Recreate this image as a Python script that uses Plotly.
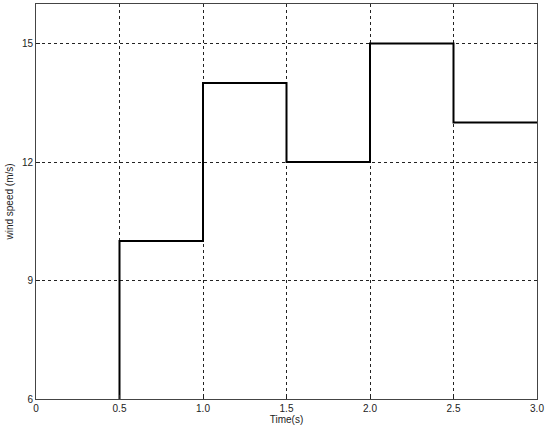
import plotly.graph_objects as go

# wind speed is 0 before the first step, clipped below the axis range
time_s = [0, 0.5, 1.0, 1.5, 2.0, 2.5, 3.0]
wind_speed = [0, 10, 14, 12, 15, 13, 13]

x_ticks = [0, 0.5, 1.0, 1.5, 2.0, 2.5, 3.0]
x_tick_labels = ["0", "0.5", "1.0", "1.5", "2.0", "2.5", "3.0"]
y_ticks = [6, 9, 12, 15]

fig = go.Figure()
fig.add_trace(go.Scatter(
    x=time_s, y=wind_speed, mode="lines", line_shape="hv",
    line=dict(color="black", width=2), showlegend=False,
))

axis_common = dict(
    showline=True, linecolor="#444444", linewidth=1, mirror=True,
    showgrid=True, gridcolor="#222222", griddash="dot", gridwidth=1,
    zeroline=False, ticks="inside", ticklen=4, tickcolor="#222222",
    tickfont=dict(size=10, color="#222222"),
)

fig.update_layout(
    width=550, height=432,
    paper_bgcolor="white", plot_bgcolor="white",
    margin=dict(l=36, r=13, t=4, b=33),
    font=dict(family="Liberation Sans, Arial, sans-serif", size=10, color="#222222"),
    xaxis=dict(
        range=[0, 3.0], tickvals=x_ticks, ticktext=x_tick_labels,
        title=dict(text="Time(s)", standoff=0, font=dict(size=10)),
        **axis_common,
    ),
    yaxis=dict(
        range=[6, 16], tickvals=y_ticks,
        title=dict(text="wind speed (m/s)", standoff=6, font=dict(size=10)),
        **axis_common,
    ),
)

fig.write_html(
    "out.html",
    config={"displayModeBar": False},
    post_script="document.body.style.margin='0';",
)
